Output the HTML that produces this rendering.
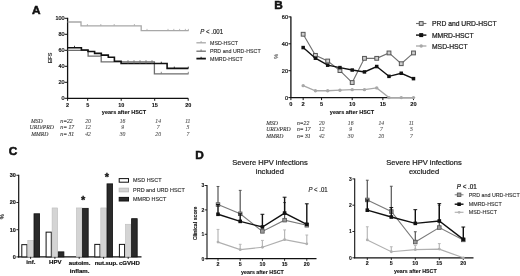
<!DOCTYPE html><html><head><meta charset="utf-8"><style>html,body{margin:0;padding:0;background:#fff;width:520px;height:276px;overflow:hidden}svg{display:block;filter:grayscale(1) blur(0.3px)}</style></head><body>
<svg width="520" height="276" viewBox="0 0 520 276">
<rect width="520" height="276" fill="#fff"/>
<text x="31.90" y="13.50" font-size="11.8" text-anchor="start" font-weight="bold" font-style="normal" fill="#111" stroke="#111" stroke-width="0.55" font-family='"Liberation Sans", sans-serif' >A</text>
<text x="274.20" y="8.70" font-size="11.8" text-anchor="start" font-weight="bold" font-style="normal" fill="#111" stroke="#111" stroke-width="0.55" font-family='"Liberation Sans", sans-serif' >B</text>
<text x="8.70" y="155.20" font-size="11.8" text-anchor="start" font-weight="bold" font-style="normal" fill="#111" stroke="#111" stroke-width="0.55" font-family='"Liberation Sans", sans-serif' >C</text>
<text x="195.20" y="158.80" font-size="11.8" text-anchor="start" font-weight="bold" font-style="normal" fill="#111" stroke="#111" stroke-width="0.55" font-family='"Liberation Sans", sans-serif' >D</text>
<line x1="67.60" y1="17.80" x2="67.60" y2="98.80" stroke="#111" stroke-width="1.3" />
<line x1="67.00" y1="98.30" x2="188.20" y2="98.30" stroke="#111" stroke-width="1.3" />
<line x1="64.60" y1="98.30" x2="67.60" y2="98.30" stroke="#111" stroke-width="1" />
<text x="64.40" y="100.20" font-size="5.4" text-anchor="end" font-weight="normal" font-style="normal" fill="#111" stroke="#111" stroke-width="0.22" font-family='"Liberation Sans", sans-serif' >0</text>
<line x1="64.60" y1="82.30" x2="67.60" y2="82.30" stroke="#111" stroke-width="1" />
<text x="64.40" y="84.20" font-size="5.4" text-anchor="end" font-weight="normal" font-style="normal" fill="#111" stroke="#111" stroke-width="0.22" font-family='"Liberation Sans", sans-serif' >20</text>
<line x1="64.60" y1="66.30" x2="67.60" y2="66.30" stroke="#111" stroke-width="1" />
<text x="64.40" y="68.20" font-size="5.4" text-anchor="end" font-weight="normal" font-style="normal" fill="#111" stroke="#111" stroke-width="0.22" font-family='"Liberation Sans", sans-serif' >40</text>
<line x1="64.60" y1="50.30" x2="67.60" y2="50.30" stroke="#111" stroke-width="1" />
<text x="64.40" y="52.20" font-size="5.4" text-anchor="end" font-weight="normal" font-style="normal" fill="#111" stroke="#111" stroke-width="0.22" font-family='"Liberation Sans", sans-serif' >60</text>
<line x1="64.60" y1="34.30" x2="67.60" y2="34.30" stroke="#111" stroke-width="1" />
<text x="64.40" y="36.20" font-size="5.4" text-anchor="end" font-weight="normal" font-style="normal" fill="#111" stroke="#111" stroke-width="0.22" font-family='"Liberation Sans", sans-serif' >80</text>
<line x1="64.60" y1="18.30" x2="67.60" y2="18.30" stroke="#111" stroke-width="1" />
<text x="64.40" y="20.20" font-size="5.4" text-anchor="end" font-weight="normal" font-style="normal" fill="#111" stroke="#111" stroke-width="0.22" font-family='"Liberation Sans", sans-serif' >100</text>
<line x1="67.60" y1="98.30" x2="67.60" y2="100.80" stroke="#111" stroke-width="1" />
<text x="67.60" y="106.70" font-size="5.5" text-anchor="middle" font-weight="bold" font-style="normal" fill="#111" stroke="#111" stroke-width="0.1" font-family='"Liberation Sans", sans-serif' >2</text>
<line x1="87.70" y1="98.30" x2="87.70" y2="100.80" stroke="#111" stroke-width="1" />
<text x="87.70" y="106.70" font-size="5.5" text-anchor="middle" font-weight="bold" font-style="normal" fill="#111" stroke="#111" stroke-width="0.1" font-family='"Liberation Sans", sans-serif' >5</text>
<line x1="121.20" y1="98.30" x2="121.20" y2="100.80" stroke="#111" stroke-width="1" />
<text x="121.20" y="106.70" font-size="5.5" text-anchor="middle" font-weight="bold" font-style="normal" fill="#111" stroke="#111" stroke-width="0.1" font-family='"Liberation Sans", sans-serif' >10</text>
<line x1="154.70" y1="98.30" x2="154.70" y2="100.80" stroke="#111" stroke-width="1" />
<text x="154.70" y="106.70" font-size="5.5" text-anchor="middle" font-weight="bold" font-style="normal" fill="#111" stroke="#111" stroke-width="0.1" font-family='"Liberation Sans", sans-serif' >15</text>
<line x1="188.20" y1="98.30" x2="188.20" y2="100.80" stroke="#111" stroke-width="1" />
<text x="188.20" y="106.70" font-size="5.5" text-anchor="middle" font-weight="bold" font-style="normal" fill="#111" stroke="#111" stroke-width="0.1" font-family='"Liberation Sans", sans-serif' >20</text>
<text x="124.00" y="113.60" font-size="5.5" text-anchor="middle" font-weight="bold" font-style="normal" fill="#111" stroke="#111" stroke-width="0.1" font-family='"Liberation Sans", sans-serif' >years after HSCT</text>
<text x="0.00" y="0.00" font-size="5.5" text-anchor="middle" font-weight="bold" font-style="normal" fill="#444" stroke="#444" stroke-width="0.1" font-family='"Liberation Sans", sans-serif' transform="translate(51.6,58) rotate(-90)">EFS</text>
<polyline points="67.60,22.00 81.00,22.00 81.00,25.80 141.20,25.80 141.20,30.70 188.70,30.70" stroke="#a8a8a8" stroke-width="1.3" fill="none" stroke-linejoin="miter" />
<polyline points="67.60,50.30 88.10,50.30 88.10,56.10 101.20,56.10 101.20,61.80 154.40,61.80 154.40,73.80 188.60,73.80" stroke="#6e6e6e" stroke-width="1.3" fill="none" stroke-linejoin="miter" />
<polyline points="67.60,47.80 81.40,47.80 81.40,50.00 88.00,50.00 88.00,51.50 94.60,51.50 94.60,53.40 101.30,53.40 101.30,55.10 108.30,55.10 108.30,57.30 114.40,57.30 114.40,61.20 121.10,61.20 121.10,63.50 167.10,63.50 167.10,68.40 188.40,68.40" stroke="#111" stroke-width="1.6" fill="none" stroke-linejoin="miter" />
<line x1="87.40" y1="24.00" x2="87.40" y2="25.80" stroke="#a8a8a8" stroke-width="0.8" />
<line x1="100.80" y1="24.00" x2="100.80" y2="25.80" stroke="#a8a8a8" stroke-width="0.8" />
<line x1="114.20" y1="24.00" x2="114.20" y2="25.80" stroke="#a8a8a8" stroke-width="0.8" />
<line x1="134.40" y1="24.00" x2="134.40" y2="25.80" stroke="#a8a8a8" stroke-width="0.8" />
<line x1="147.00" y1="28.90" x2="147.00" y2="30.70" stroke="#a8a8a8" stroke-width="0.8" />
<line x1="168.00" y1="28.90" x2="168.00" y2="30.70" stroke="#a8a8a8" stroke-width="0.8" />
<line x1="173.80" y1="28.90" x2="173.80" y2="30.70" stroke="#a8a8a8" stroke-width="0.8" />
<line x1="179.60" y1="28.90" x2="179.60" y2="30.70" stroke="#a8a8a8" stroke-width="0.8" />
<line x1="185.40" y1="28.90" x2="185.40" y2="30.70" stroke="#a8a8a8" stroke-width="0.8" />
<line x1="188.40" y1="28.90" x2="188.40" y2="30.70" stroke="#a8a8a8" stroke-width="0.8" />
<line x1="74.50" y1="45.80" x2="74.50" y2="47.80" stroke="#111" stroke-width="0.8" />
<line x1="128.00" y1="60.10" x2="128.00" y2="63.50" stroke="#6e6e6e" stroke-width="0.8" />
<line x1="134.00" y1="60.10" x2="134.00" y2="63.50" stroke="#6e6e6e" stroke-width="0.8" />
<line x1="140.00" y1="60.10" x2="140.00" y2="63.50" stroke="#6e6e6e" stroke-width="0.8" />
<line x1="146.00" y1="60.10" x2="146.00" y2="63.50" stroke="#6e6e6e" stroke-width="0.8" />
<line x1="152.00" y1="60.10" x2="152.00" y2="63.50" stroke="#6e6e6e" stroke-width="0.8" />
<line x1="161.30" y1="71.80" x2="161.30" y2="73.60" stroke="#6e6e6e" stroke-width="0.8" />
<line x1="188.30" y1="71.80" x2="188.30" y2="73.60" stroke="#6e6e6e" stroke-width="0.8" />
<line x1="174.30" y1="66.60" x2="174.30" y2="68.40" stroke="#111" stroke-width="0.8" />
<line x1="188.30" y1="66.60" x2="188.30" y2="68.40" stroke="#111" stroke-width="0.8" />
<line x1="161.30" y1="61.70" x2="161.30" y2="63.50" stroke="#111" stroke-width="0.8" />
<text x="0.00" y="0.00" font-size="6.1" text-anchor="start" font-weight="normal" font-style="normal" fill="#222" stroke="#222" stroke-width="0.15" font-family='"Liberation Sans", sans-serif' transform="translate(200.2,34.4) scale(1,1.12)"><tspan font-style="italic">P</tspan> &lt; .001</text>
<line x1="196.40" y1="42.80" x2="205.90" y2="42.80" stroke="#a8a8a8" stroke-width="1.3" />
<line x1="201.10" y1="41.00" x2="201.10" y2="42.80" stroke="#a8a8a8" stroke-width="0.9" />
<text x="210.00" y="44.70" font-size="5.3" text-anchor="start" font-weight="normal" font-style="normal" fill="#333" stroke="#333" stroke-width="0.12" font-family='"Liberation Sans", sans-serif' >MSD-HSCT</text>
<line x1="196.40" y1="51.20" x2="205.90" y2="51.20" stroke="#6e6e6e" stroke-width="1.3" />
<line x1="201.10" y1="49.40" x2="201.10" y2="51.20" stroke="#6e6e6e" stroke-width="0.9" />
<text x="210.00" y="53.10" font-size="5.3" text-anchor="start" font-weight="normal" font-style="normal" fill="#333" stroke="#333" stroke-width="0.12" font-family='"Liberation Sans", sans-serif' >PRD and URD-HSCT</text>
<line x1="196.40" y1="58.60" x2="205.90" y2="58.60" stroke="#111" stroke-width="1.8" />
<line x1="201.10" y1="56.80" x2="201.10" y2="58.60" stroke="#111" stroke-width="0.9" />
<text x="210.00" y="60.50" font-size="5.3" text-anchor="start" font-weight="normal" font-style="normal" fill="#333" stroke="#333" stroke-width="0.12" font-family='"Liberation Sans", sans-serif' >MMRD-HSCT</text>
<text x="31.00" y="122.60" font-size="5.7" text-anchor="start" font-weight="normal" font-style="italic" fill="#3a3a3a" stroke="#3a3a3a" stroke-width="0.12" font-family='"Liberation Serif", serif' >MSD</text>
<text x="60.30" y="122.60" font-size="5.7" text-anchor="start" font-weight="normal" font-style="italic" fill="#3a3a3a" stroke="#3a3a3a" stroke-width="0.12" font-family='"Liberation Serif", serif' >n=22</text>
<text x="88.00" y="122.60" font-size="5.7" text-anchor="middle" font-weight="normal" font-style="italic" fill="#555" stroke="#555" stroke-width="0.1" font-family='"Liberation Serif", serif' >20</text>
<text x="122.60" y="122.60" font-size="5.7" text-anchor="middle" font-weight="normal" font-style="italic" fill="#555" stroke="#555" stroke-width="0.1" font-family='"Liberation Serif", serif' >16</text>
<text x="158.20" y="122.60" font-size="5.7" text-anchor="middle" font-weight="normal" font-style="italic" fill="#555" stroke="#555" stroke-width="0.1" font-family='"Liberation Serif", serif' >14</text>
<text x="187.80" y="122.60" font-size="5.7" text-anchor="middle" font-weight="normal" font-style="italic" fill="#555" stroke="#555" stroke-width="0.1" font-family='"Liberation Serif", serif' >11</text>
<text x="29.60" y="129.10" font-size="5.7" text-anchor="start" font-weight="normal" font-style="italic" fill="#3a3a3a" stroke="#3a3a3a" stroke-width="0.12" font-family='"Liberation Serif", serif' >URD/PRD</text>
<text x="60.30" y="129.10" font-size="5.7" text-anchor="start" font-weight="normal" font-style="italic" fill="#3a3a3a" stroke="#3a3a3a" stroke-width="0.12" font-family='"Liberation Serif", serif' >n= 17</text>
<text x="88.00" y="129.10" font-size="5.7" text-anchor="middle" font-weight="normal" font-style="italic" fill="#555" stroke="#555" stroke-width="0.1" font-family='"Liberation Serif", serif' >12</text>
<text x="122.60" y="129.10" font-size="5.7" text-anchor="middle" font-weight="normal" font-style="italic" fill="#555" stroke="#555" stroke-width="0.1" font-family='"Liberation Serif", serif' >9</text>
<text x="158.20" y="129.10" font-size="5.7" text-anchor="middle" font-weight="normal" font-style="italic" fill="#555" stroke="#555" stroke-width="0.1" font-family='"Liberation Serif", serif' >7</text>
<text x="187.80" y="129.10" font-size="5.7" text-anchor="middle" font-weight="normal" font-style="italic" fill="#555" stroke="#555" stroke-width="0.1" font-family='"Liberation Serif", serif' >5</text>
<text x="31.20" y="135.60" font-size="5.7" text-anchor="start" font-weight="normal" font-style="italic" fill="#3a3a3a" stroke="#3a3a3a" stroke-width="0.12" font-family='"Liberation Serif", serif' >MMRD</text>
<text x="60.30" y="135.60" font-size="5.7" text-anchor="start" font-weight="normal" font-style="italic" fill="#3a3a3a" stroke="#3a3a3a" stroke-width="0.12" font-family='"Liberation Serif", serif' >n= 31</text>
<text x="88.00" y="135.60" font-size="5.7" text-anchor="middle" font-weight="normal" font-style="italic" fill="#555" stroke="#555" stroke-width="0.1" font-family='"Liberation Serif", serif' >42</text>
<text x="122.60" y="135.60" font-size="5.7" text-anchor="middle" font-weight="normal" font-style="italic" fill="#555" stroke="#555" stroke-width="0.1" font-family='"Liberation Serif", serif' >30</text>
<text x="158.20" y="135.60" font-size="5.7" text-anchor="middle" font-weight="normal" font-style="italic" fill="#555" stroke="#555" stroke-width="0.1" font-family='"Liberation Serif", serif' >20</text>
<text x="187.80" y="135.60" font-size="5.7" text-anchor="middle" font-weight="normal" font-style="italic" fill="#555" stroke="#555" stroke-width="0.1" font-family='"Liberation Serif", serif' >7</text>
<line x1="290.90" y1="16.40" x2="290.90" y2="98.10" stroke="#111" stroke-width="1.3" />
<line x1="290.30" y1="97.60" x2="413.50" y2="97.60" stroke="#111" stroke-width="1.3" />
<line x1="288.40" y1="97.60" x2="290.90" y2="97.60" stroke="#111" stroke-width="1" />
<text x="288.10" y="99.50" font-size="5.6" text-anchor="end" font-weight="normal" font-style="normal" fill="#111" stroke="#111" stroke-width="0.22" font-family='"Liberation Sans", sans-serif' >0</text>
<line x1="288.40" y1="70.70" x2="290.90" y2="70.70" stroke="#111" stroke-width="1" />
<text x="288.10" y="72.60" font-size="5.6" text-anchor="end" font-weight="normal" font-style="normal" fill="#111" stroke="#111" stroke-width="0.22" font-family='"Liberation Sans", sans-serif' >20</text>
<line x1="288.40" y1="43.80" x2="290.90" y2="43.80" stroke="#111" stroke-width="1" />
<text x="288.10" y="45.70" font-size="5.6" text-anchor="end" font-weight="normal" font-style="normal" fill="#111" stroke="#111" stroke-width="0.22" font-family='"Liberation Sans", sans-serif' >40</text>
<line x1="288.40" y1="16.90" x2="290.90" y2="16.90" stroke="#111" stroke-width="1" />
<text x="288.10" y="18.80" font-size="5.6" text-anchor="end" font-weight="normal" font-style="normal" fill="#111" stroke="#111" stroke-width="0.22" font-family='"Liberation Sans", sans-serif' >60</text>
<line x1="290.90" y1="97.60" x2="290.90" y2="100.10" stroke="#111" stroke-width="1" />
<text x="290.90" y="106.10" font-size="5.7" text-anchor="middle" font-weight="bold" font-style="normal" fill="#111" stroke="#111" stroke-width="0.1" font-family='"Liberation Sans", sans-serif' >0</text>
<line x1="303.16" y1="97.60" x2="303.16" y2="100.10" stroke="#111" stroke-width="1" />
<text x="303.16" y="106.10" font-size="5.7" text-anchor="middle" font-weight="bold" font-style="normal" fill="#111" stroke="#111" stroke-width="0.1" font-family='"Liberation Sans", sans-serif' >2</text>
<line x1="321.55" y1="97.60" x2="321.55" y2="100.10" stroke="#111" stroke-width="1" />
<text x="321.55" y="106.10" font-size="5.7" text-anchor="middle" font-weight="bold" font-style="normal" fill="#111" stroke="#111" stroke-width="0.1" font-family='"Liberation Sans", sans-serif' >5</text>
<line x1="352.20" y1="97.60" x2="352.20" y2="100.10" stroke="#111" stroke-width="1" />
<text x="352.20" y="106.10" font-size="5.7" text-anchor="middle" font-weight="bold" font-style="normal" fill="#111" stroke="#111" stroke-width="0.1" font-family='"Liberation Sans", sans-serif' >10</text>
<line x1="382.85" y1="97.60" x2="382.85" y2="100.10" stroke="#111" stroke-width="1" />
<text x="382.85" y="106.10" font-size="5.7" text-anchor="middle" font-weight="bold" font-style="normal" fill="#111" stroke="#111" stroke-width="0.1" font-family='"Liberation Sans", sans-serif' >15</text>
<line x1="413.50" y1="97.60" x2="413.50" y2="100.10" stroke="#111" stroke-width="1" />
<text x="413.50" y="106.10" font-size="5.7" text-anchor="middle" font-weight="bold" font-style="normal" fill="#111" stroke="#111" stroke-width="0.1" font-family='"Liberation Sans", sans-serif' >20</text>
<text x="352.00" y="114.40" font-size="5.5" text-anchor="middle" font-weight="bold" font-style="normal" fill="#111" stroke="#111" stroke-width="0.1" font-family='"Liberation Sans", sans-serif' >years after HSCT</text>
<text x="0.00" y="0.00" font-size="5.5" text-anchor="middle" font-weight="normal" font-style="normal" fill="#777" stroke="#777" stroke-width="0.22" font-family='"Liberation Sans", sans-serif' transform="translate(277.8,56.3) rotate(-90)">%</text>
<polyline points="303.16,85.63 315.42,90.74 327.68,90.74 339.94,90.20 352.20,89.66 364.46,89.66 376.72,87.92 388.98,97.60 401.24,97.60 413.50,97.60" stroke="#a8a8a8" stroke-width="1.3" fill="none" stroke-linejoin="miter" />
<circle cx="303.16" cy="85.63" r="1.7" fill="#a8a8a8" stroke="none" stroke-width="0"/>
<circle cx="315.42" cy="90.74" r="1.7" fill="#a8a8a8" stroke="none" stroke-width="0"/>
<circle cx="327.68" cy="90.74" r="1.7" fill="#a8a8a8" stroke="none" stroke-width="0"/>
<circle cx="339.94" cy="90.20" r="1.7" fill="#a8a8a8" stroke="none" stroke-width="0"/>
<circle cx="352.20" cy="89.66" r="1.7" fill="#a8a8a8" stroke="none" stroke-width="0"/>
<circle cx="364.46" cy="89.66" r="1.7" fill="#a8a8a8" stroke="none" stroke-width="0"/>
<circle cx="376.72" cy="87.92" r="1.7" fill="#a8a8a8" stroke="none" stroke-width="0"/>
<circle cx="388.98" cy="97.60" r="1.7" fill="#a8a8a8" stroke="none" stroke-width="0"/>
<circle cx="401.24" cy="97.60" r="1.7" fill="#a8a8a8" stroke="none" stroke-width="0"/>
<circle cx="413.50" cy="97.60" r="1.7" fill="#a8a8a8" stroke="none" stroke-width="0"/>
<polyline points="303.16,34.25 315.42,55.37 327.68,61.02 339.94,70.57 352.20,82.54 364.46,58.33 376.72,58.33 388.98,52.95 401.24,63.71 413.50,52.95" stroke="#707070" stroke-width="1.1" fill="none" stroke-linejoin="miter" />
<rect x="301.26" y="32.35" width="3.80" height="3.80" fill="#cfcfcf" stroke="#555" stroke-width="1.0" />
<rect x="313.52" y="53.47" width="3.80" height="3.80" fill="#cfcfcf" stroke="#555" stroke-width="1.0" />
<rect x="325.78" y="59.12" width="3.80" height="3.80" fill="#cfcfcf" stroke="#555" stroke-width="1.0" />
<rect x="338.04" y="68.67" width="3.80" height="3.80" fill="#cfcfcf" stroke="#555" stroke-width="1.0" />
<rect x="350.30" y="80.64" width="3.80" height="3.80" fill="#cfcfcf" stroke="#555" stroke-width="1.0" />
<rect x="362.56" y="56.43" width="3.80" height="3.80" fill="#cfcfcf" stroke="#555" stroke-width="1.0" />
<rect x="374.82" y="56.43" width="3.80" height="3.80" fill="#cfcfcf" stroke="#555" stroke-width="1.0" />
<rect x="387.08" y="51.05" width="3.80" height="3.80" fill="#cfcfcf" stroke="#555" stroke-width="1.0" />
<rect x="399.34" y="61.81" width="3.80" height="3.80" fill="#cfcfcf" stroke="#555" stroke-width="1.0" />
<rect x="411.60" y="51.05" width="3.80" height="3.80" fill="#cfcfcf" stroke="#555" stroke-width="1.0" />
<polyline points="303.16,47.57 315.42,58.19 327.68,65.19 339.94,67.61 352.20,70.03 364.46,71.91 376.72,66.53 388.98,76.35 401.24,73.26 413.50,78.64" stroke="#111" stroke-width="1.4" fill="none" stroke-linejoin="miter" />
<rect x="301.41" y="45.82" width="3.50" height="3.50" fill="#111" stroke="none" stroke-width="0" />
<rect x="313.67" y="56.44" width="3.50" height="3.50" fill="#111" stroke="none" stroke-width="0" />
<rect x="325.93" y="63.44" width="3.50" height="3.50" fill="#111" stroke="none" stroke-width="0" />
<rect x="338.19" y="65.86" width="3.50" height="3.50" fill="#111" stroke="none" stroke-width="0" />
<rect x="350.45" y="68.28" width="3.50" height="3.50" fill="#111" stroke="none" stroke-width="0" />
<rect x="362.71" y="70.16" width="3.50" height="3.50" fill="#111" stroke="none" stroke-width="0" />
<rect x="374.97" y="64.78" width="3.50" height="3.50" fill="#111" stroke="none" stroke-width="0" />
<rect x="387.23" y="74.60" width="3.50" height="3.50" fill="#111" stroke="none" stroke-width="0" />
<rect x="399.49" y="71.51" width="3.50" height="3.50" fill="#111" stroke="none" stroke-width="0" />
<rect x="411.75" y="76.89" width="3.50" height="3.50" fill="#111" stroke="none" stroke-width="0" />
<line x1="416.00" y1="23.50" x2="426.40" y2="23.50" stroke="#707070" stroke-width="1.1" />
<rect x="419.30" y="21.60" width="3.80" height="3.80" fill="#cfcfcf" stroke="#555" stroke-width="1.0" />
<text x="432.00" y="26.00" font-size="6.75" text-anchor="start" font-weight="normal" font-style="normal" fill="#222" stroke="#222" stroke-width="0.22" font-family='"Liberation Sans", sans-serif' >PRD and URD-HSCT</text>
<line x1="416.00" y1="35.10" x2="426.40" y2="35.10" stroke="#111" stroke-width="1.4" />
<rect x="419.20" y="33.10" width="4.00" height="4.00" fill="#111" stroke="none" stroke-width="0" />
<text x="432.00" y="37.60" font-size="6.75" text-anchor="start" font-weight="normal" font-style="normal" fill="#222" stroke="#222" stroke-width="0.22" font-family='"Liberation Sans", sans-serif' >MMRD-HSCT</text>
<line x1="416.00" y1="46.00" x2="426.40" y2="46.00" stroke="#a8a8a8" stroke-width="1.3" />
<circle cx="421.20" cy="46.00" r="1.7" fill="#a8a8a8" stroke="none" stroke-width="0"/>
<text x="432.00" y="48.50" font-size="6.75" text-anchor="start" font-weight="normal" font-style="normal" fill="#222" stroke="#222" stroke-width="0.22" font-family='"Liberation Sans", sans-serif' >MSD-HSCT</text>
<text x="266.20" y="125.00" font-size="5.7" text-anchor="start" font-weight="normal" font-style="italic" fill="#3a3a3a" stroke="#3a3a3a" stroke-width="0.12" font-family='"Liberation Serif", serif' >MSD</text>
<text x="296.90" y="125.00" font-size="5.7" text-anchor="start" font-weight="normal" font-style="italic" fill="#3a3a3a" stroke="#3a3a3a" stroke-width="0.12" font-family='"Liberation Serif", serif' >n=22</text>
<text x="321.76" y="125.00" font-size="5.7" text-anchor="middle" font-weight="normal" font-style="italic" fill="#555" stroke="#555" stroke-width="0.1" font-family='"Liberation Serif", serif' >20</text>
<text x="350.70" y="125.00" font-size="5.7" text-anchor="middle" font-weight="normal" font-style="italic" fill="#555" stroke="#555" stroke-width="0.1" font-family='"Liberation Serif", serif' >16</text>
<text x="381.35" y="125.00" font-size="5.7" text-anchor="middle" font-weight="normal" font-style="italic" fill="#555" stroke="#555" stroke-width="0.1" font-family='"Liberation Serif", serif' >14</text>
<text x="411.30" y="125.00" font-size="5.7" text-anchor="middle" font-weight="normal" font-style="italic" fill="#555" stroke="#555" stroke-width="0.1" font-family='"Liberation Serif", serif' >11</text>
<text x="266.20" y="131.40" font-size="5.7" text-anchor="start" font-weight="normal" font-style="italic" fill="#3a3a3a" stroke="#3a3a3a" stroke-width="0.12" font-family='"Liberation Serif", serif' >URD/PRD</text>
<text x="296.90" y="131.40" font-size="5.7" text-anchor="start" font-weight="normal" font-style="italic" fill="#3a3a3a" stroke="#3a3a3a" stroke-width="0.12" font-family='"Liberation Serif", serif' >n= 17</text>
<text x="321.76" y="131.40" font-size="5.7" text-anchor="middle" font-weight="normal" font-style="italic" fill="#555" stroke="#555" stroke-width="0.1" font-family='"Liberation Serif", serif' >12</text>
<text x="350.70" y="131.40" font-size="5.7" text-anchor="middle" font-weight="normal" font-style="italic" fill="#555" stroke="#555" stroke-width="0.1" font-family='"Liberation Serif", serif' >9</text>
<text x="381.35" y="131.40" font-size="5.7" text-anchor="middle" font-weight="normal" font-style="italic" fill="#555" stroke="#555" stroke-width="0.1" font-family='"Liberation Serif", serif' >7</text>
<text x="411.30" y="131.40" font-size="5.7" text-anchor="middle" font-weight="normal" font-style="italic" fill="#555" stroke="#555" stroke-width="0.1" font-family='"Liberation Serif", serif' >5</text>
<text x="266.20" y="137.60" font-size="5.7" text-anchor="start" font-weight="normal" font-style="italic" fill="#3a3a3a" stroke="#3a3a3a" stroke-width="0.12" font-family='"Liberation Serif", serif' >MMRD</text>
<text x="296.90" y="137.60" font-size="5.7" text-anchor="start" font-weight="normal" font-style="italic" fill="#3a3a3a" stroke="#3a3a3a" stroke-width="0.12" font-family='"Liberation Serif", serif' >n= 31</text>
<text x="321.76" y="137.60" font-size="5.7" text-anchor="middle" font-weight="normal" font-style="italic" fill="#555" stroke="#555" stroke-width="0.1" font-family='"Liberation Serif", serif' >42</text>
<text x="350.70" y="137.60" font-size="5.7" text-anchor="middle" font-weight="normal" font-style="italic" fill="#555" stroke="#555" stroke-width="0.1" font-family='"Liberation Serif", serif' >30</text>
<text x="381.35" y="137.60" font-size="5.7" text-anchor="middle" font-weight="normal" font-style="italic" fill="#555" stroke="#555" stroke-width="0.1" font-family='"Liberation Serif", serif' >20</text>
<text x="411.30" y="137.60" font-size="5.7" text-anchor="middle" font-weight="normal" font-style="italic" fill="#555" stroke="#555" stroke-width="0.1" font-family='"Liberation Serif", serif' >7</text>
<line x1="18.70" y1="174.80" x2="18.70" y2="257.40" stroke="#111" stroke-width="1.2" />
<line x1="18.10" y1="256.90" x2="141.50" y2="256.90" stroke="#111" stroke-width="1.2" />
<line x1="16.40" y1="256.90" x2="18.70" y2="256.90" stroke="#111" stroke-width="0.9" />
<text x="15.80" y="258.80" font-size="5.5" text-anchor="end" font-weight="bold" font-style="normal" fill="#111" stroke="#111" stroke-width="0.15" font-family='"Liberation Sans", sans-serif' >0</text>
<line x1="16.40" y1="229.70" x2="18.70" y2="229.70" stroke="#111" stroke-width="0.9" />
<text x="15.80" y="231.60" font-size="5.5" text-anchor="end" font-weight="bold" font-style="normal" fill="#111" stroke="#111" stroke-width="0.15" font-family='"Liberation Sans", sans-serif' >10</text>
<line x1="16.40" y1="202.50" x2="18.70" y2="202.50" stroke="#111" stroke-width="0.9" />
<text x="15.80" y="204.40" font-size="5.5" text-anchor="end" font-weight="bold" font-style="normal" fill="#111" stroke="#111" stroke-width="0.15" font-family='"Liberation Sans", sans-serif' >20</text>
<line x1="16.40" y1="175.30" x2="18.70" y2="175.30" stroke="#111" stroke-width="0.9" />
<text x="15.80" y="177.20" font-size="5.5" text-anchor="end" font-weight="bold" font-style="normal" fill="#111" stroke="#111" stroke-width="0.15" font-family='"Liberation Sans", sans-serif' >30</text>
<text x="0.00" y="0.00" font-size="5.8" text-anchor="middle" font-weight="bold" font-style="normal" fill="#333" stroke="#333" stroke-width="0.1" font-family='"Liberation Sans", sans-serif' transform="translate(4.4,216.7) rotate(-90)">%</text>
<rect x="21.80" y="244.66" width="5.20" height="12.24" fill="#fff" stroke="#111" stroke-width="1.0" />
<rect x="27.80" y="240.31" width="5.60" height="16.59" fill="#d4d4d4" stroke="#bdbdbd" stroke-width="0.6" />
<rect x="34.00" y="213.78" width="5.60" height="43.12" fill="#2a2a2a" stroke="#111" stroke-width="0.8" />
<rect x="46.10" y="232.15" width="5.20" height="24.75" fill="#fff" stroke="#111" stroke-width="1.0" />
<rect x="52.10" y="207.94" width="5.60" height="48.96" fill="#d4d4d4" stroke="#bdbdbd" stroke-width="0.6" />
<rect x="58.30" y="251.86" width="5.60" height="5.04" fill="#2a2a2a" stroke="#111" stroke-width="0.8" />
<rect x="76.40" y="207.94" width="5.60" height="48.96" fill="#d4d4d4" stroke="#bdbdbd" stroke-width="0.6" />
<rect x="82.60" y="208.34" width="5.60" height="48.56" fill="#2a2a2a" stroke="#111" stroke-width="0.8" />
<rect x="94.80" y="244.39" width="5.20" height="12.51" fill="#fff" stroke="#111" stroke-width="1.0" />
<rect x="100.80" y="207.94" width="5.60" height="48.96" fill="#d4d4d4" stroke="#bdbdbd" stroke-width="0.6" />
<rect x="107.00" y="183.86" width="5.60" height="73.04" fill="#2a2a2a" stroke="#111" stroke-width="0.8" />
<rect x="119.40" y="244.39" width="5.20" height="12.51" fill="#fff" stroke="#111" stroke-width="1.0" />
<rect x="125.40" y="224.26" width="5.60" height="32.64" fill="#d4d4d4" stroke="#bdbdbd" stroke-width="0.6" />
<rect x="131.60" y="218.68" width="5.60" height="38.22" fill="#2a2a2a" stroke="#111" stroke-width="0.8" />
<line x1="30.60" y1="256.90" x2="30.60" y2="258.90" stroke="#111" stroke-width="0.9" />
<line x1="54.90" y1="256.90" x2="54.90" y2="258.90" stroke="#111" stroke-width="0.9" />
<line x1="79.20" y1="256.90" x2="79.20" y2="258.90" stroke="#111" stroke-width="0.9" />
<line x1="103.60" y1="256.90" x2="103.60" y2="258.90" stroke="#111" stroke-width="0.9" />
<line x1="128.20" y1="256.90" x2="128.20" y2="258.90" stroke="#111" stroke-width="0.9" />
<text x="30.80" y="264.30" font-size="6.1" text-anchor="middle" font-weight="bold" font-style="normal" fill="#111" stroke="#111" stroke-width="0.18" font-family='"Liberation Sans", sans-serif' >inf.</text>
<text x="55.30" y="264.40" font-size="6.1" text-anchor="middle" font-weight="bold" font-style="normal" fill="#111" stroke="#111" stroke-width="0.18" font-family='"Liberation Sans", sans-serif' >HPV</text>
<text x="79.60" y="265.30" font-size="6.1" text-anchor="middle" font-weight="bold" font-style="normal" fill="#111" stroke="#111" stroke-width="0.18" font-family='"Liberation Sans", sans-serif' >autoim.</text>
<text x="79.60" y="272.90" font-size="6.1" text-anchor="middle" font-weight="bold" font-style="normal" fill="#111" stroke="#111" stroke-width="0.18" font-family='"Liberation Sans", sans-serif' >inflam.</text>
<text x="106.20" y="264.60" font-size="6.1" text-anchor="middle" font-weight="bold" font-style="normal" fill="#111" stroke="#111" stroke-width="0.18" font-family='"Liberation Sans", sans-serif' letter-spacing="-0.1">nut.sup.</text>
<text x="129.40" y="264.60" font-size="6.1" text-anchor="middle" font-weight="bold" font-style="normal" fill="#111" stroke="#111" stroke-width="0.18" font-family='"Liberation Sans", sans-serif' >cGVHD</text>
<text x="83.20" y="204.40" font-size="11" text-anchor="middle" font-weight="bold" font-style="normal" fill="#111" stroke="#111" stroke-width="0.3" font-family='"Liberation Sans", sans-serif' >*</text>
<text x="106.80" y="181.00" font-size="11" text-anchor="middle" font-weight="bold" font-style="normal" fill="#111" stroke="#111" stroke-width="0.3" font-family='"Liberation Sans", sans-serif' >*</text>
<rect x="119.20" y="178.60" width="9.30" height="3.60" fill="#fff" stroke="#111" stroke-width="1.0" />
<text x="133.10" y="182.30" font-size="5.45" text-anchor="start" font-weight="normal" font-style="normal" fill="#333" stroke="#333" stroke-width="0.15" font-family='"Liberation Sans", sans-serif' >MSD HSCT</text>
<rect x="119.20" y="188.20" width="9.30" height="3.60" fill="#d4d4d4" stroke="#bdbdbd" stroke-width="1.0" />
<text x="133.10" y="191.90" font-size="5.45" text-anchor="start" font-weight="normal" font-style="normal" fill="#333" stroke="#333" stroke-width="0.15" font-family='"Liberation Sans", sans-serif' >PRD and URD HSCT</text>
<rect x="119.20" y="197.40" width="9.30" height="3.60" fill="#2a2a2a" stroke="#111" stroke-width="1.0" />
<text x="133.10" y="201.10" font-size="5.45" text-anchor="start" font-weight="normal" font-style="normal" fill="#333" stroke="#333" stroke-width="0.15" font-family='"Liberation Sans", sans-serif' >MMRD HSCT</text>
<line x1="207.00" y1="185.00" x2="207.00" y2="259.20" stroke="#111" stroke-width="1.1" />
<line x1="206.40" y1="258.70" x2="316.50" y2="258.70" stroke="#111" stroke-width="1.2" />
<line x1="204.70" y1="258.70" x2="207.00" y2="258.70" stroke="#111" stroke-width="0.9" />
<text x="204.20" y="260.50" font-size="5.0" text-anchor="end" font-weight="bold" font-style="normal" fill="#111" stroke="#111" stroke-width="0.1" font-family='"Liberation Sans", sans-serif' >0</text>
<line x1="204.70" y1="234.30" x2="207.00" y2="234.30" stroke="#111" stroke-width="0.9" />
<text x="204.20" y="236.10" font-size="5.0" text-anchor="end" font-weight="bold" font-style="normal" fill="#111" stroke="#111" stroke-width="0.1" font-family='"Liberation Sans", sans-serif' >1</text>
<line x1="204.70" y1="209.90" x2="207.00" y2="209.90" stroke="#111" stroke-width="0.9" />
<text x="204.20" y="211.70" font-size="5.0" text-anchor="end" font-weight="bold" font-style="normal" fill="#111" stroke="#111" stroke-width="0.1" font-family='"Liberation Sans", sans-serif' >2</text>
<line x1="204.70" y1="185.50" x2="207.00" y2="185.50" stroke="#111" stroke-width="0.9" />
<text x="204.20" y="187.30" font-size="5.0" text-anchor="end" font-weight="bold" font-style="normal" fill="#111" stroke="#111" stroke-width="0.1" font-family='"Liberation Sans", sans-serif' >3</text>
<line x1="218.00" y1="258.70" x2="218.00" y2="260.90" stroke="#111" stroke-width="0.9" />
<text x="218.00" y="266.30" font-size="5.3" text-anchor="middle" font-weight="bold" font-style="normal" fill="#111" stroke="#111" stroke-width="0.1" font-family='"Liberation Sans", sans-serif' >2</text>
<line x1="240.20" y1="258.70" x2="240.20" y2="260.90" stroke="#111" stroke-width="0.9" />
<text x="240.20" y="266.30" font-size="5.3" text-anchor="middle" font-weight="bold" font-style="normal" fill="#111" stroke="#111" stroke-width="0.1" font-family='"Liberation Sans", sans-serif' >5</text>
<line x1="262.40" y1="258.70" x2="262.40" y2="260.90" stroke="#111" stroke-width="0.9" />
<text x="262.40" y="266.30" font-size="5.3" text-anchor="middle" font-weight="bold" font-style="normal" fill="#111" stroke="#111" stroke-width="0.1" font-family='"Liberation Sans", sans-serif' >10</text>
<line x1="284.60" y1="258.70" x2="284.60" y2="260.90" stroke="#111" stroke-width="0.9" />
<text x="284.60" y="266.30" font-size="5.3" text-anchor="middle" font-weight="bold" font-style="normal" fill="#111" stroke="#111" stroke-width="0.1" font-family='"Liberation Sans", sans-serif' >15</text>
<line x1="306.80" y1="258.70" x2="306.80" y2="260.90" stroke="#111" stroke-width="0.9" />
<text x="306.80" y="266.30" font-size="5.3" text-anchor="middle" font-weight="bold" font-style="normal" fill="#111" stroke="#111" stroke-width="0.1" font-family='"Liberation Sans", sans-serif' >20</text>
<text x="262.40" y="274.30" font-size="5.3" text-anchor="middle" font-weight="bold" font-style="normal" fill="#111" stroke="#111" stroke-width="0.1" font-family='"Liberation Sans", sans-serif' >years after HSCT</text>
<text x="270.00" y="165.20" font-size="7.55" text-anchor="middle" font-weight="normal" font-style="normal" fill="#222" stroke="#222" stroke-width="0.22" font-family='"Liberation Sans", sans-serif' >Severe HPV infections</text>
<line x1="218.00" y1="242.11" x2="218.00" y2="229.42" stroke="#b8b8b8" stroke-width="1.2" />
<line x1="216.60" y1="229.42" x2="219.40" y2="229.42" stroke="#b8b8b8" stroke-width="1.0" />
<line x1="240.20" y1="249.67" x2="240.20" y2="244.30" stroke="#b8b8b8" stroke-width="1.2" />
<line x1="238.80" y1="244.30" x2="241.60" y2="244.30" stroke="#b8b8b8" stroke-width="1.0" />
<line x1="262.40" y1="247.23" x2="262.40" y2="240.40" stroke="#b8b8b8" stroke-width="1.2" />
<line x1="261.00" y1="240.40" x2="263.80" y2="240.40" stroke="#b8b8b8" stroke-width="1.0" />
<line x1="284.60" y1="239.67" x2="284.60" y2="229.91" stroke="#b8b8b8" stroke-width="1.2" />
<line x1="283.20" y1="229.91" x2="286.00" y2="229.91" stroke="#b8b8b8" stroke-width="1.0" />
<line x1="306.80" y1="243.82" x2="306.80" y2="235.03" stroke="#b8b8b8" stroke-width="1.2" />
<line x1="305.40" y1="235.03" x2="308.20" y2="235.03" stroke="#b8b8b8" stroke-width="1.0" />
<polyline points="218.00,242.11 240.20,249.67 262.40,247.23 284.60,239.67 306.80,243.82" stroke="#b0b0b0" stroke-width="1.2" fill="none" stroke-linejoin="miter" />
<circle cx="218.00" cy="242.11" r="1.4" fill="#b0b0b0" stroke="none" stroke-width="0"/>
<circle cx="240.20" cy="249.67" r="1.4" fill="#b0b0b0" stroke="none" stroke-width="0"/>
<circle cx="262.40" cy="247.23" r="1.4" fill="#b0b0b0" stroke="none" stroke-width="0"/>
<circle cx="284.60" cy="239.67" r="1.4" fill="#b0b0b0" stroke="none" stroke-width="0"/>
<circle cx="306.80" cy="243.82" r="1.4" fill="#b0b0b0" stroke="none" stroke-width="0"/>
<line x1="218.00" y1="204.53" x2="218.00" y2="186.48" stroke="#555" stroke-width="1.2" />
<line x1="216.60" y1="186.48" x2="219.40" y2="186.48" stroke="#555" stroke-width="1.0" />
<line x1="240.20" y1="213.80" x2="240.20" y2="190.38" stroke="#555" stroke-width="1.2" />
<line x1="238.80" y1="190.38" x2="241.60" y2="190.38" stroke="#555" stroke-width="1.0" />
<line x1="284.60" y1="220.15" x2="284.60" y2="202.58" stroke="#555" stroke-width="1.2" />
<line x1="283.20" y1="202.58" x2="286.00" y2="202.58" stroke="#555" stroke-width="1.0" />
<polyline points="218.00,204.53 240.20,213.80 262.40,231.37 284.60,220.15 306.80,225.27" stroke="#7a7a7a" stroke-width="1.1" fill="none" stroke-linejoin="miter" />
<rect x="216.20" y="202.73" width="3.60" height="3.60" fill="#9a9a9a" stroke="#555" stroke-width="0.8" />
<rect x="238.40" y="212.00" width="3.60" height="3.60" fill="#9a9a9a" stroke="#555" stroke-width="0.8" />
<rect x="260.60" y="229.57" width="3.60" height="3.60" fill="#9a9a9a" stroke="#555" stroke-width="0.8" />
<rect x="282.80" y="218.35" width="3.60" height="3.60" fill="#9a9a9a" stroke="#555" stroke-width="0.8" />
<rect x="305.00" y="223.47" width="3.60" height="3.60" fill="#9a9a9a" stroke="#555" stroke-width="0.8" />
<line x1="218.00" y1="214.29" x2="218.00" y2="204.53" stroke="#111" stroke-width="1.4" />
<line x1="216.10" y1="204.53" x2="219.90" y2="204.53" stroke="#111" stroke-width="1.0" />
<line x1="240.20" y1="221.37" x2="240.20" y2="213.80" stroke="#111" stroke-width="1.4" />
<line x1="238.30" y1="213.80" x2="242.10" y2="213.80" stroke="#111" stroke-width="1.0" />
<line x1="262.40" y1="226.98" x2="262.40" y2="214.29" stroke="#111" stroke-width="1.4" />
<line x1="260.50" y1="214.29" x2="264.30" y2="214.29" stroke="#111" stroke-width="1.0" />
<line x1="284.60" y1="213.07" x2="284.60" y2="197.21" stroke="#111" stroke-width="1.4" />
<line x1="282.70" y1="197.21" x2="286.50" y2="197.21" stroke="#111" stroke-width="1.0" />
<line x1="306.80" y1="224.30" x2="306.80" y2="203.80" stroke="#111" stroke-width="1.4" />
<line x1="304.90" y1="203.80" x2="308.70" y2="203.80" stroke="#111" stroke-width="1.0" />
<polyline points="218.00,214.29 240.20,221.37 262.40,226.98 284.60,213.07 306.80,224.30" stroke="#111" stroke-width="1.4" fill="none" stroke-linejoin="miter" />
<rect x="216.20" y="212.49" width="3.60" height="3.60" fill="#111" stroke="none" stroke-width="0" />
<rect x="238.40" y="219.57" width="3.60" height="3.60" fill="#111" stroke="none" stroke-width="0" />
<rect x="260.60" y="225.18" width="3.60" height="3.60" fill="#111" stroke="none" stroke-width="0" />
<rect x="282.80" y="211.27" width="3.60" height="3.60" fill="#111" stroke="none" stroke-width="0" />
<rect x="305.00" y="222.50" width="3.60" height="3.60" fill="#111" stroke="none" stroke-width="0" />
<text x="269.80" y="174.40" font-size="7.55" text-anchor="middle" font-weight="normal" font-style="normal" fill="#222" stroke="#222" stroke-width="0.22" font-family='"Liberation Sans", sans-serif' >included</text>
<text x="0.00" y="0.00" font-size="6.0" text-anchor="start" font-weight="normal" font-style="normal" fill="#222" stroke="#222" stroke-width="0.15" font-family='"Liberation Sans", sans-serif' transform="translate(308.4,192.0) scale(1,1.1)"><tspan font-style="italic">P</tspan> &lt; .01</text>
<text x="0.00" y="0.00" font-size="5.2" text-anchor="middle" font-weight="bold" font-style="normal" fill="#111" stroke="#111" stroke-width="0.1" font-family='"Liberation Sans", sans-serif' transform="translate(197.4,223.4) rotate(-90)">Clinical score</text>
<line x1="354.70" y1="178.40" x2="354.70" y2="258.30" stroke="#111" stroke-width="1.1" />
<line x1="354.10" y1="257.80" x2="473.50" y2="257.80" stroke="#111" stroke-width="1.2" />
<line x1="352.40" y1="257.80" x2="354.70" y2="257.80" stroke="#111" stroke-width="0.9" />
<text x="351.90" y="259.60" font-size="5.0" text-anchor="end" font-weight="bold" font-style="normal" fill="#111" stroke="#111" stroke-width="0.1" font-family='"Liberation Sans", sans-serif' >0</text>
<line x1="352.40" y1="231.50" x2="354.70" y2="231.50" stroke="#111" stroke-width="0.9" />
<text x="351.90" y="233.30" font-size="5.0" text-anchor="end" font-weight="bold" font-style="normal" fill="#111" stroke="#111" stroke-width="0.1" font-family='"Liberation Sans", sans-serif' >1</text>
<line x1="352.40" y1="205.20" x2="354.70" y2="205.20" stroke="#111" stroke-width="0.9" />
<text x="351.90" y="207.00" font-size="5.0" text-anchor="end" font-weight="bold" font-style="normal" fill="#111" stroke="#111" stroke-width="0.1" font-family='"Liberation Sans", sans-serif' >2</text>
<line x1="352.40" y1="178.90" x2="354.70" y2="178.90" stroke="#111" stroke-width="0.9" />
<text x="351.90" y="180.70" font-size="5.0" text-anchor="end" font-weight="bold" font-style="normal" fill="#111" stroke="#111" stroke-width="0.1" font-family='"Liberation Sans", sans-serif' >3</text>
<line x1="367.30" y1="257.80" x2="367.30" y2="260.00" stroke="#111" stroke-width="0.9" />
<text x="367.30" y="265.40" font-size="5.3" text-anchor="middle" font-weight="bold" font-style="normal" fill="#111" stroke="#111" stroke-width="0.1" font-family='"Liberation Sans", sans-serif' >2</text>
<line x1="391.30" y1="257.80" x2="391.30" y2="260.00" stroke="#111" stroke-width="0.9" />
<text x="391.30" y="265.40" font-size="5.3" text-anchor="middle" font-weight="bold" font-style="normal" fill="#111" stroke="#111" stroke-width="0.1" font-family='"Liberation Sans", sans-serif' >5</text>
<line x1="415.30" y1="257.80" x2="415.30" y2="260.00" stroke="#111" stroke-width="0.9" />
<text x="415.30" y="265.40" font-size="5.3" text-anchor="middle" font-weight="bold" font-style="normal" fill="#111" stroke="#111" stroke-width="0.1" font-family='"Liberation Sans", sans-serif' >10</text>
<line x1="439.30" y1="257.80" x2="439.30" y2="260.00" stroke="#111" stroke-width="0.9" />
<text x="439.30" y="265.40" font-size="5.3" text-anchor="middle" font-weight="bold" font-style="normal" fill="#111" stroke="#111" stroke-width="0.1" font-family='"Liberation Sans", sans-serif' >15</text>
<line x1="463.30" y1="257.80" x2="463.30" y2="260.00" stroke="#111" stroke-width="0.9" />
<text x="463.30" y="265.40" font-size="5.3" text-anchor="middle" font-weight="bold" font-style="normal" fill="#111" stroke="#111" stroke-width="0.1" font-family='"Liberation Sans", sans-serif' >20</text>
<text x="415.30" y="273.40" font-size="5.3" text-anchor="middle" font-weight="bold" font-style="normal" fill="#111" stroke="#111" stroke-width="0.1" font-family='"Liberation Sans", sans-serif' >years after HSCT</text>
<text x="424.00" y="165.20" font-size="7.55" text-anchor="middle" font-weight="normal" font-style="normal" fill="#222" stroke="#222" stroke-width="0.22" font-family='"Liberation Sans", sans-serif' >Severe HPV infections</text>
<line x1="367.30" y1="239.92" x2="367.30" y2="226.77" stroke="#b8b8b8" stroke-width="1.2" />
<line x1="365.90" y1="226.77" x2="368.70" y2="226.77" stroke="#b8b8b8" stroke-width="1.0" />
<line x1="391.30" y1="251.75" x2="391.30" y2="246.75" stroke="#b8b8b8" stroke-width="1.2" />
<line x1="389.90" y1="246.75" x2="392.70" y2="246.75" stroke="#b8b8b8" stroke-width="1.0" />
<line x1="415.30" y1="249.65" x2="415.30" y2="245.44" stroke="#b8b8b8" stroke-width="1.2" />
<line x1="413.90" y1="245.44" x2="416.70" y2="245.44" stroke="#b8b8b8" stroke-width="1.0" />
<line x1="439.30" y1="249.12" x2="439.30" y2="243.60" stroke="#b8b8b8" stroke-width="1.2" />
<line x1="437.90" y1="243.60" x2="440.70" y2="243.60" stroke="#b8b8b8" stroke-width="1.0" />
<polyline points="367.30,239.92 391.30,251.75 415.30,249.65 439.30,249.12 463.30,257.80" stroke="#b0b0b0" stroke-width="1.2" fill="none" stroke-linejoin="miter" />
<circle cx="367.30" cy="239.92" r="1.4" fill="#b0b0b0" stroke="none" stroke-width="0"/>
<circle cx="391.30" cy="251.75" r="1.4" fill="#b0b0b0" stroke="none" stroke-width="0"/>
<circle cx="415.30" cy="249.65" r="1.4" fill="#b0b0b0" stroke="none" stroke-width="0"/>
<circle cx="439.30" cy="249.12" r="1.4" fill="#b0b0b0" stroke="none" stroke-width="0"/>
<circle cx="463.30" cy="257.80" r="1.4" fill="#b0b0b0" stroke="none" stroke-width="0"/>
<line x1="367.30" y1="199.94" x2="367.30" y2="180.22" stroke="#555" stroke-width="1.2" />
<line x1="365.90" y1="180.22" x2="368.70" y2="180.22" stroke="#555" stroke-width="1.0" />
<line x1="391.30" y1="211.51" x2="391.30" y2="186.26" stroke="#555" stroke-width="1.2" />
<line x1="389.90" y1="186.26" x2="392.70" y2="186.26" stroke="#555" stroke-width="1.0" />
<line x1="415.30" y1="242.02" x2="415.30" y2="231.76" stroke="#555" stroke-width="1.2" />
<line x1="413.90" y1="231.76" x2="416.70" y2="231.76" stroke="#555" stroke-width="1.0" />
<line x1="439.30" y1="227.56" x2="439.30" y2="205.20" stroke="#555" stroke-width="1.2" />
<line x1="437.90" y1="205.20" x2="440.70" y2="205.20" stroke="#555" stroke-width="1.0" />
<polyline points="367.30,199.94 391.30,211.51 415.30,242.02 439.30,227.56 463.30,239.92" stroke="#7a7a7a" stroke-width="1.1" fill="none" stroke-linejoin="miter" />
<rect x="365.50" y="198.14" width="3.60" height="3.60" fill="#9a9a9a" stroke="#555" stroke-width="0.8" />
<rect x="389.50" y="209.71" width="3.60" height="3.60" fill="#9a9a9a" stroke="#555" stroke-width="0.8" />
<rect x="413.50" y="240.22" width="3.60" height="3.60" fill="#9a9a9a" stroke="#555" stroke-width="0.8" />
<rect x="437.50" y="225.75" width="3.60" height="3.60" fill="#9a9a9a" stroke="#555" stroke-width="0.8" />
<rect x="461.50" y="238.12" width="3.60" height="3.60" fill="#9a9a9a" stroke="#555" stroke-width="0.8" />
<line x1="367.30" y1="210.20" x2="367.30" y2="199.94" stroke="#111" stroke-width="1.4" />
<line x1="365.40" y1="199.94" x2="369.20" y2="199.94" stroke="#111" stroke-width="1.0" />
<line x1="391.30" y1="217.04" x2="391.30" y2="207.57" stroke="#111" stroke-width="1.4" />
<line x1="389.40" y1="207.57" x2="393.20" y2="207.57" stroke="#111" stroke-width="1.0" />
<line x1="415.30" y1="223.35" x2="415.30" y2="209.67" stroke="#111" stroke-width="1.4" />
<line x1="413.40" y1="209.67" x2="417.20" y2="209.67" stroke="#111" stroke-width="1.0" />
<line x1="439.30" y1="220.98" x2="439.30" y2="203.62" stroke="#111" stroke-width="1.4" />
<line x1="437.40" y1="203.62" x2="441.20" y2="203.62" stroke="#111" stroke-width="1.0" />
<line x1="463.30" y1="239.39" x2="463.30" y2="227.03" stroke="#111" stroke-width="1.4" />
<line x1="461.40" y1="227.03" x2="465.20" y2="227.03" stroke="#111" stroke-width="1.0" />
<polyline points="367.30,210.20 391.30,217.04 415.30,223.35 439.30,220.98 463.30,239.39" stroke="#111" stroke-width="1.4" fill="none" stroke-linejoin="miter" />
<rect x="365.50" y="208.40" width="3.60" height="3.60" fill="#111" stroke="none" stroke-width="0" />
<rect x="389.50" y="215.24" width="3.60" height="3.60" fill="#111" stroke="none" stroke-width="0" />
<rect x="413.50" y="221.55" width="3.60" height="3.60" fill="#111" stroke="none" stroke-width="0" />
<rect x="437.50" y="219.18" width="3.60" height="3.60" fill="#111" stroke="none" stroke-width="0" />
<rect x="461.50" y="237.59" width="3.60" height="3.60" fill="#111" stroke="none" stroke-width="0" />
<text x="424.00" y="174.20" font-size="7.55" text-anchor="middle" font-weight="normal" font-style="normal" fill="#222" stroke="#222" stroke-width="0.22" font-family='"Liberation Sans", sans-serif' >excluded</text>
<text x="456.70" y="188.70" font-size="6.3" text-anchor="start" font-weight="normal" font-style="normal" fill="#222" stroke="#222" stroke-width="0.22" font-family='"Liberation Sans", sans-serif' ><tspan font-style="italic">P</tspan> &lt; .01</text>
<line x1="454.70" y1="194.80" x2="463.50" y2="194.80" stroke="#7a7a7a" stroke-width="1.0" />
<rect x="457.30" y="193.00" width="3.60" height="3.60" fill="#9a9a9a" stroke="#555" stroke-width="0.8" />
<text x="468.80" y="196.70" font-size="5.33" text-anchor="start" font-weight="normal" font-style="normal" fill="#333" stroke="#333" stroke-width="0.12" font-family='"Liberation Sans", sans-serif' >PRD and URD-HSCT</text>
<line x1="454.70" y1="204.20" x2="463.50" y2="204.20" stroke="#111" stroke-width="1.4" />
<rect x="457.30" y="202.40" width="3.60" height="3.60" fill="#111" stroke="none" stroke-width="0" />
<text x="468.80" y="206.10" font-size="5.33" text-anchor="start" font-weight="normal" font-style="normal" fill="#333" stroke="#333" stroke-width="0.12" font-family='"Liberation Sans", sans-serif' >MMRD-HSCT</text>
<line x1="454.70" y1="212.30" x2="463.50" y2="212.30" stroke="#b4b4b4" stroke-width="1.2" />
<circle cx="459.10" cy="212.30" r="1.4" fill="#b4b4b4" stroke="none" stroke-width="0"/>
<text x="468.80" y="214.20" font-size="5.33" text-anchor="start" font-weight="normal" font-style="normal" fill="#333" stroke="#333" stroke-width="0.12" font-family='"Liberation Sans", sans-serif' >MSD-HSCT</text>
</svg></body></html>
